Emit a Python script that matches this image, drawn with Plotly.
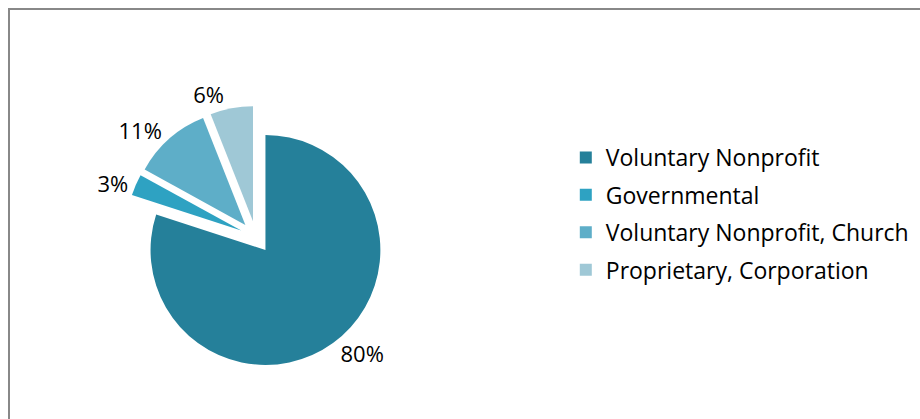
import plotly.graph_objects as go

categories = ["Voluntary Nonprofit", "Governmental", "Voluntary Nonprofit, Church", "Proprietary, Corporation"]
values = [80, 3, 11, 6]
colors = ["#25809a", "#2ea2c2", "#5eaec8", "#9fc8d6"]
pulls = [0.14, 0.14, 0.14, 0.14]

FONT = "'Open Sans', Lato, sans-serif"

fig = go.Figure()
fig.add_trace(go.Pie(
    labels=categories,
    values=values,
    sort=False,
    direction="clockwise",
    rotation=0,
    pull=pulls,
    marker=dict(colors=colors, line=dict(width=0)),
    texttemplate="%{value}%",
    textposition="outside",
    textfont=dict(family=FONT, size=22, color="#000000"),
    showlegend=False,
    domain=dict(x=[125/920, 387/920], y=[1-368/419, 1-106/419]),
    hoverinfo="label+percent",
))

for cat, col in zip(categories, colors):
    fig.add_trace(go.Scatter(
        x=[None], y=[None], mode="markers", name=cat,
        legendgroup=cat,
        marker=dict(symbol="square", size=15, color=col),
    ))

fig.update_layout(
    width=920, height=419,
    margin=dict(l=0, r=0, t=0, b=0),
    paper_bgcolor="white", plot_bgcolor="white",
    xaxis=dict(visible=False), yaxis=dict(visible=False),
    showlegend=True,
    legend=dict(
        x=0.615, y=1-136/419, xanchor="left", yanchor="top",
        font=dict(family=FONT, size=23, color="#000000"),
        tracegroupgap=4.5, itemsizing="constant",
        bgcolor="rgba(0,0,0,0)",
    ),
    shapes=[dict(type="rect", xref="paper", yref="paper",
                 x0=9/920, x1=1.05, y0=-0.05, y1=1-9/419,
                 line=dict(color="#888888", width=2))],
)

fig.write_html("out.html")
